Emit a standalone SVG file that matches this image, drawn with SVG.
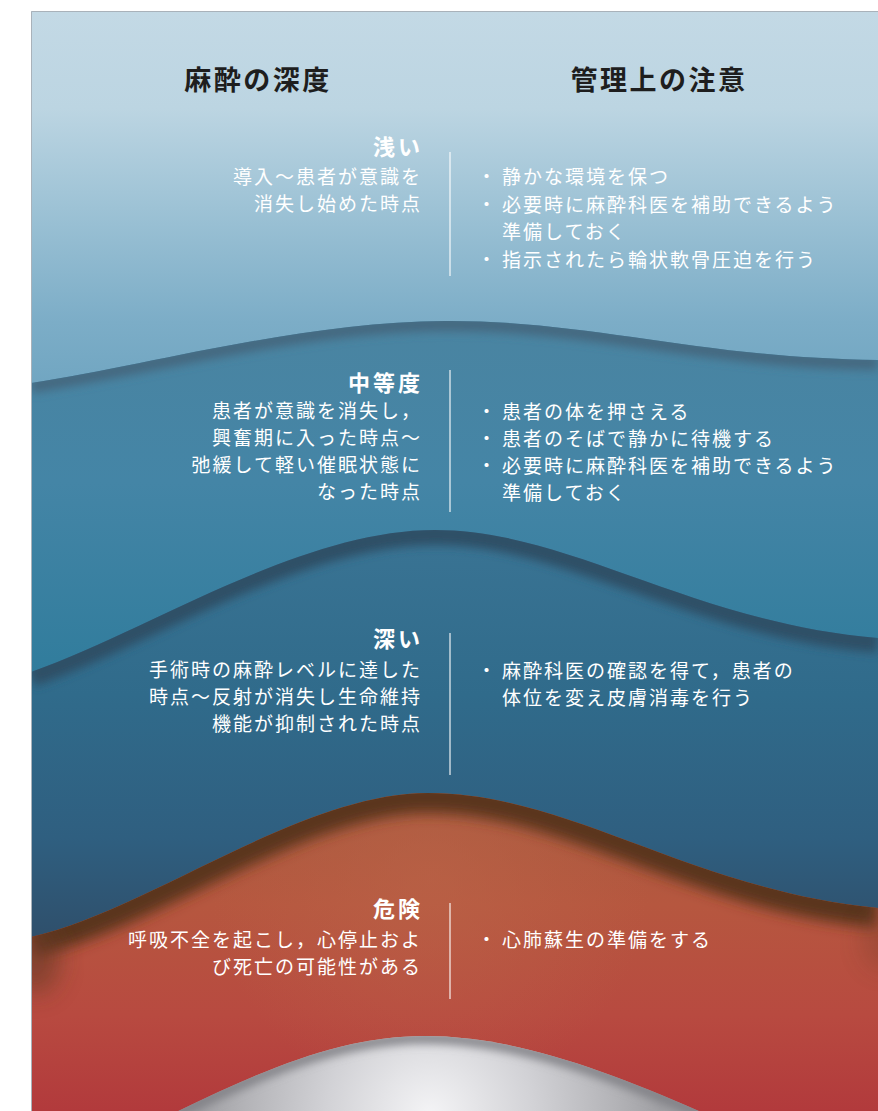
<svg xmlns="http://www.w3.org/2000/svg" width="878" height="1111" viewBox="0 0 878 1111">
  <style>
    .head { font-family: "Noto Sans CJK JP", "Noto Sans", sans-serif; font-size: 27px; font-weight: 700; fill: #1e1e1e; letter-spacing: 2.5px; text-anchor: middle; }
    .label { font-family: "Noto Sans CJK JP", "Noto Sans", sans-serif; font-size: 22px; font-weight: 700; fill: #ffffff; letter-spacing: 3px; text-anchor: end; }
    .desc { font-family: "Noto Sans CJK JP", "Noto Sans", sans-serif; font-size: 19px; fill: #ffffff; letter-spacing: 2px; text-anchor: end; }
    .care { font-family: "Noto Sans CJK JP", "Noto Sans", sans-serif; font-size: 19px; fill: #ffffff; letter-spacing: 2px; }
    .divider { stroke: #ffffff; stroke-opacity: 0.55; stroke-width: 2; }
  </style>
  <defs>
    <clipPath id="panel"><rect x="31" y="11" width="847" height="1100"/></clipPath>
    <clipPath id="clip-mid"><path d="M31,383 C150,365 300,322 445,321 C590,320 700,358 878,360 L878,1111 L31,1111 Z"/></clipPath>
    <clipPath id="clip-deep"><path d="M31,672 C150,630 300,530 435,530 C570,530 690,622 878,638 L878,1111 L31,1111 Z"/></clipPath>
    <clipPath id="clip-red"><path d="M31,937 C150,910 300,793 428,793 C570,793 690,890 878,908 L878,1111 L31,1111 Z"/></clipPath>
    <clipPath id="clip-gray"><path d="M150,1125 C260,1070 340,1036 425,1036 C520,1036 620,1075 730,1125 Z"/></clipPath>

    <linearGradient id="g-top" gradientUnits="userSpaceOnUse" x1="0" y1="11" x2="0" y2="400">
      <stop offset="0" stop-color="#c3d9e5"/>
      <stop offset="0.25" stop-color="#bcd5e2"/>
      <stop offset="0.55" stop-color="#98bfd3"/>
      <stop offset="0.8" stop-color="#7cadc7"/>
      <stop offset="1" stop-color="#6ea4c0"/>
    </linearGradient>
    <linearGradient id="g-mid" gradientUnits="userSpaceOnUse" x1="0" y1="320" x2="0" y2="680">
      <stop offset="0" stop-color="#4a84a1"/>
      <stop offset="0.45" stop-color="#4485a6"/>
      <stop offset="1" stop-color="#307c9c"/>
    </linearGradient>
    <linearGradient id="g-deep" gradientUnits="userSpaceOnUse" x1="0" y1="530" x2="0" y2="940">
      <stop offset="0" stop-color="#3a7494"/>
      <stop offset="0.4" stop-color="#306b8b"/>
      <stop offset="0.75" stop-color="#2f5f80"/>
      <stop offset="1" stop-color="#2f4f6b"/>
    </linearGradient>
    <linearGradient id="g-red" gradientUnits="userSpaceOnUse" x1="0" y1="793" x2="0" y2="1111">
      <stop offset="0" stop-color="#a65a3e"/>
      <stop offset="0.35" stop-color="#b6573f"/>
      <stop offset="0.7" stop-color="#b84a40"/>
      <stop offset="1" stop-color="#b23a3c"/>
    </linearGradient>
    <radialGradient id="g-red-glow" gradientUnits="userSpaceOnUse" cx="430" cy="880" r="220">
      <stop offset="0" stop-color="#bb6448" stop-opacity="0.6"/>
      <stop offset="1" stop-color="#bb6448" stop-opacity="0"/>
    </radialGradient>
    <radialGradient id="g-gray" gradientUnits="userSpaceOnUse" cx="430" cy="1115" r="230">
      <stop offset="0" stop-color="#f4f4f6"/>
      <stop offset="0.45" stop-color="#d2d2d6"/>
      <stop offset="0.8" stop-color="#b4b4b8"/>
      <stop offset="1" stop-color="#a0a0a4"/>
    </radialGradient>

    <filter id="soft" x="-10%" y="-50%" width="120%" height="200%">
      <feGaussianBlur stdDeviation="5"/>
    </filter>
    <filter id="softwide" x="-10%" y="-50%" width="120%" height="200%">
      <feGaussianBlur stdDeviation="7"/>
    </filter>
    <filter id="softer" x="-50%" y="-50%" width="200%" height="200%">
      <feGaussianBlur stdDeviation="12"/>
    </filter>
  </defs>

  <rect width="878" height="1111" fill="#ffffff"/>

  <!-- layered depth bands -->
  <g id="bands" clip-path="url(#panel)">
    <rect x="31" y="11" width="847" height="1100" fill="url(#g-top)"/>

    <g clip-path="url(#clip-mid)">
      <rect x="31" y="300" width="847" height="811" fill="url(#g-mid)"/>
      <path d="M31,383 C150,365 300,322 445,321 C590,320 700,358 878,360" fill="none" stroke="#45677f" stroke-width="14" filter="url(#soft)" transform="translate(0,3)"/>
    </g>

    <g clip-path="url(#clip-deep)">
      <rect x="31" y="520" width="847" height="591" fill="url(#g-deep)"/>
      <path d="M31,672 C150,630 300,530 435,530 C570,530 690,622 878,638" fill="none" stroke="#2f4f66" stroke-width="22" filter="url(#soft)" transform="translate(0,4)"/>
    </g>

    <g clip-path="url(#clip-red)">
      <rect x="31" y="790" width="847" height="321" fill="url(#g-red)"/>
      <rect x="31" y="790" width="847" height="321" fill="url(#g-red-glow)"/>
      <path d="M31,937 C150,910 300,793 428,793 C570,793 690,890 878,908" fill="none" stroke="#5a351e" stroke-width="32" filter="url(#softwide)" transform="translate(0,4)"/>
      <ellipse cx="36" cy="958" rx="24" ry="36" fill="#6a3a25" opacity="0.65" filter="url(#softer)"/>
      <ellipse cx="884" cy="940" rx="22" ry="30" fill="#6a3a25" opacity="0.3" filter="url(#softer)"/>
    </g>

    <g clip-path="url(#clip-gray)">
      <rect x="140" y="1030" width="600" height="90" fill="url(#g-gray)"/>
      <path d="M150,1125 C260,1070 340,1036 425,1036 C520,1036 620,1075 730,1125" fill="none" stroke="#7e7e83" stroke-width="10" filter="url(#soft)" transform="translate(0,2)"/>
    </g>
  </g>

  <!-- panel edge -->
  <path d="M31.5,1111 L31.5,11.5 L878,11.5" fill="none" stroke="#a9b2ba" stroke-width="1"/>

  <!-- column headings -->
  <g id="heading-depth"><text class="head" x="258" y="90">麻酔の深度</text></g>
  <g id="heading-care"><text class="head" x="659" y="90">管理上の注意</text></g>

  <!-- level: shallow -->
  <g id="level-shallow">
    <text class="label" x="423" y="155">浅い</text>
    <text class="desc" x="422" y="184">導入～患者が意識を</text>
    <text class="desc" x="422" y="211">消失し始めた時点</text>
    <line class="divider" x1="450" y1="152" x2="450" y2="276"/>
    <text class="care" x="477" y="184">・</text>
    <text class="care" x="502" y="184">静かな環境を保つ</text>
    <text class="care" x="477" y="211.5">・</text>
    <text class="care" x="502" y="211.5">必要時に麻酔科医を補助できるよう</text>
    <text class="care" x="502" y="239">準備しておく</text>
    <text class="care" x="477" y="266.5">・</text>
    <text class="care" x="502" y="266.5">指示されたら輪状軟骨圧迫を行う</text>
  </g>

  <!-- level: moderate -->
  <g id="level-moderate">
    <text class="label" x="423" y="391">中等度</text>
    <text class="desc" x="422" y="418">患者が意識を消失し，</text>
    <text class="desc" x="422" y="445">興奮期に入った時点～</text>
    <text class="desc" x="422" y="472">弛緩して軽い催眠状態に</text>
    <text class="desc" x="422" y="499">なった時点</text>
    <line class="divider" x1="450" y1="370" x2="450" y2="512"/>
    <text class="care" x="477" y="419">・</text>
    <text class="care" x="502" y="419">患者の体を押さえる</text>
    <text class="care" x="477" y="446">・</text>
    <text class="care" x="502" y="446">患者のそばで静かに待機する</text>
    <text class="care" x="477" y="473">・</text>
    <text class="care" x="502" y="473">必要時に麻酔科医を補助できるよう</text>
    <text class="care" x="502" y="500">準備しておく</text>
  </g>

  <!-- level: deep -->
  <g id="level-deep">
    <text class="label" x="423" y="647">深い</text>
    <text class="desc" x="422" y="677">手術時の麻酔レベルに達した</text>
    <text class="desc" x="422" y="704">時点～反射が消失し生命維持</text>
    <text class="desc" x="422" y="731">機能が抑制された時点</text>
    <line class="divider" x1="450" y1="633" x2="450" y2="775"/>
    <text class="care" x="477" y="678">・</text>
    <text class="care" x="502" y="678">麻酔科医の確認を得て，患者の</text>
    <text class="care" x="502" y="705">体位を変え皮膚消毒を行う</text>
  </g>

  <!-- level: danger -->
  <g id="level-danger">
    <text class="label" x="423" y="917">危険</text>
    <text class="desc" x="422" y="947">呼吸不全を起こし，心停止およ</text>
    <text class="desc" x="422" y="974">び死亡の可能性がある</text>
    <line class="divider" x1="450" y1="903" x2="450" y2="999"/>
    <text class="care" x="477" y="947">・</text>
    <text class="care" x="502" y="947">心肺蘇生の準備をする</text>
  </g>

  <!-- no connectors between levels -->
  <g id="connectors"/>
</svg>
